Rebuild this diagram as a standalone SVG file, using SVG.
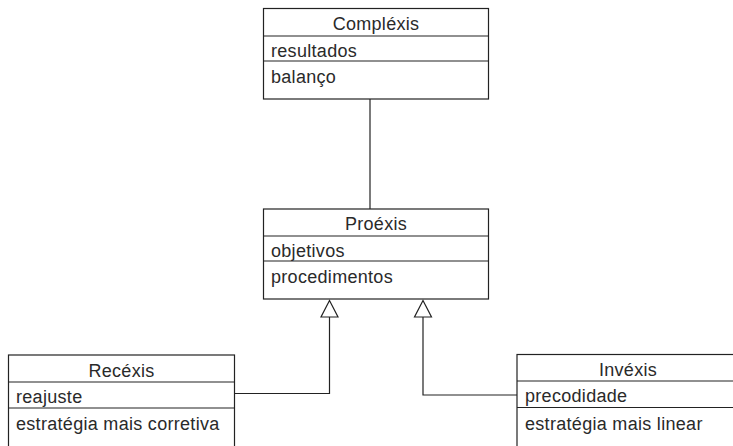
<svg xmlns="http://www.w3.org/2000/svg" width="733" height="446" viewBox="0 0 733 446">
<style>
.box{fill:#fff;stroke:#222;stroke-width:1.2}
.sep{stroke:#222;stroke-width:1.2}
.t{font-family:"Liberation Sans",Arial,sans-serif;font-size:18px;letter-spacing:0.3px;fill:#2a2a2a}
.c{text-anchor:middle}
.conn{fill:none;stroke:#222;stroke-width:1.2}
.tri{fill:#fff;stroke:#222;stroke-width:1.2}
</style>
<rect width="733" height="446" fill="#fff"/>
<g id="complexis">
<rect class="box" x="263.5" y="8.5" width="225" height="90.5"/>
<line class="sep" x1="263.5" y1="36" x2="488.5" y2="36"/>
<line class="sep" x1="263.5" y1="61" x2="488.5" y2="61"/>
<text class="t c" x="376" y="29.5">Compléxis</text>
<text class="t" x="271" y="56.5">resultados</text>
<text class="t" x="271" y="83">balanço</text>
</g>
<g id="proexis">
<rect class="box" x="263.5" y="209" width="225" height="90"/>
<line class="sep" x1="263.5" y1="236" x2="488.5" y2="236"/>
<line class="sep" x1="263.5" y1="261" x2="488.5" y2="261"/>
<text class="t c" x="376" y="229.5">Proéxis</text>
<text class="t" x="271" y="256.5">objetivos</text>
<text class="t" x="271" y="283">procedimentos</text>
</g>
<g id="recexis">
<rect class="box" x="8.5" y="355" width="226" height="110"/>
<line class="sep" x1="8.5" y1="382" x2="234.5" y2="382"/>
<line class="sep" x1="8.5" y1="408" x2="234.5" y2="408"/>
<text class="t c" x="121.5" y="376.5">Recéxis</text>
<text class="t" x="16" y="402.5">reajuste</text>
<text class="t" x="16" y="429.5">estratégia mais corretiva</text>
</g>
<g id="invexis">
<rect class="box" x="517" y="354.5" width="240" height="110"/>
<line class="sep" x1="517" y1="381" x2="757" y2="381"/>
<line class="sep" x1="517" y1="407.5" x2="757" y2="407.5"/>
<text class="t c" x="628" y="375.5">Invéxis</text>
<text class="t" x="525" y="401.5">precodidade</text>
<text class="t" x="525" y="429.5">estratégia mais linear</text>
</g>
<g id="connectors">
<path class="conn" d="M370,99 V209"/>
<path class="conn" d="M234.5,393.5 H329.5 V317"/>
<path class="conn" d="M517,395 H423 V317"/>
<polygon class="tri" points="329.5,300.5 321,317 338,317"/>
<polygon class="tri" points="423,300.5 414.5,317 431.5,317"/>
</g>
</svg>
